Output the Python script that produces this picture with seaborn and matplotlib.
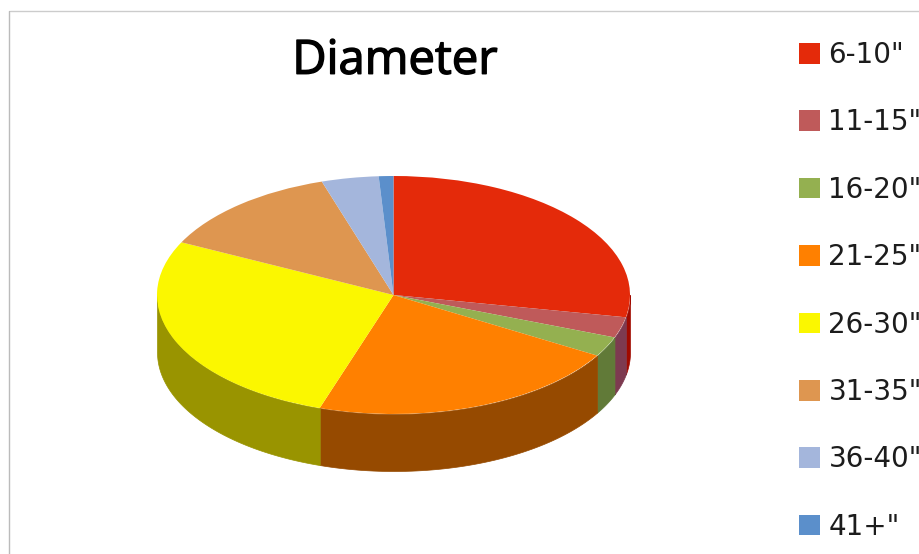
import numpy as np
import seaborn as sns
import matplotlib.pyplot as plt
import matplotlib.patheffects as pe
from matplotlib.lines import Line2D

labels = ['6-10"', '11-15"', '16-20"', '21-25"', '26-30"', '31-35"', '36-40"', '41+"']
shares = [28.0, 2.8, 2.7, 21.55, 27.25, 12.8, 3.9, 1.0]
top_colors = ["#e42a0a", "#bf5a5a", "#94b050", "#ff8000", "#fbf700", "#de9650", "#a4b6dc", "#5b8fcb"]
side_colors = ["#a00a00", "#7d3a50", "#617a38", "#964a00", "#999400", "#8f6030", "#6a7690", "#3a5d85"]

sns.set_theme(style="white")
plt.rcParams['font.family'] = ['DejaVu Sans']

fig = plt.figure(figsize=(9.2, 5.54), dpi=100)
ax = fig.add_axes([0, 0, 1, 1])

# pie centre and radii in pixels of the picture
cx, cy, rx, ry = 393.5, 295, 236.5, 119
depth = 57 / ry

wedges, _ = ax.pie(shares, colors=sns.color_palette(top_colors), startangle=90,
                   counterclock=False, wedgeprops={"linewidth": 0, "zorder": 3})
ax.set_aspect("auto")
ax.set_xlim((0 - cx) / rx, (920 - cx) / rx)
ax.set_ylim((cy - 554) / ry, cy / ry)

# side wall, only the front half of the rim can be seen
for w, c in zip(wedges, side_colors):
    t1 = max(w.theta1, -180)
    t2 = min(w.theta2, 0)
    if t2 <= t1:
        continue
    t = np.radians(np.linspace(t1, t2, 60))
    ax.fill_between(np.cos(t), np.sin(t), np.sin(t) - depth, color=c, linewidth=0.5, zorder=2)

leg = ax.legend(wedges, labels, loc="upper left", bbox_to_anchor=(799 / 920, 1 - 41 / 554),
                frameon=False, fontsize=20, borderpad=0, borderaxespad=0, labelcolor="#1c1c1c",
                handlelength=0.76, handleheight=0.76, handletextpad=0.3, labelspacing=1.418)

title = fig.text(395 / 920, 1 - 61 / 554, "Diameter", fontsize=34, color="black",
                 ha="center", va="center", family=["Open Sans", "DejaVu Sans"])
title.set_path_effects([pe.withStroke(linewidth=1.0, foreground="black")])

fig.add_artist(Line2D([10 / 920, 1], [1 - 10.5 / 554] * 2, color="#cccccc", lw=1))
fig.add_artist(Line2D([9.5 / 920] * 2, [0, 1 - 10.5 / 554], color="#bbbbbb", lw=1))

fig.savefig("out.png", dpi=100)
